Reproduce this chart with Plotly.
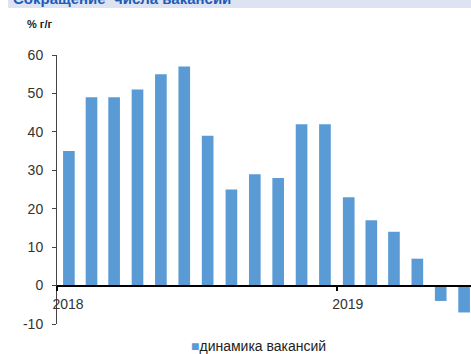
import plotly.graph_objects as go

months = ["2018-01", "2018-02", "2018-03", "2018-04", "2018-05", "2018-06",
          "2018-07", "2018-08", "2018-09", "2018-10", "2018-11", "2018-12",
          "2019-01", "2019-02", "2019-03", "2019-04", "2019-05", "2019-06"]
vacancies = [35, 49, 49, 51, 55, 57, 39, 25, 29, 28, 42, 42, 23, 17, 14, 7, -4, -7]
series_name = "динамика вакансий"
title_text = "Сокращение  числа вакансий"
unit_label = "% г/г"
year_ticks = ["2018-01-01", "2019-01-01"]
year_labels = ["2018", "2019"]
y_ticks = [-10, 0, 10, 20, 30, 40, 50, 60]
y_labels = ["-10", "0", "10", "20", "30", "40", "50", "60"]

W, H = 471, 354
ml, mr, mt, mb = 57, 0, 55, 30
ph = H - mt - mb
pw = W - ml - mr
ymin, ymax = -10, 60

bar_color = "#5b9bd5"
text_color = "#333333"
font_family = "Liberation Sans, Arial, sans-serif"
DAY = 86400000


def px_x(p):
    return (p - ml) / pw


def px_y(p):
    return 1 - (p - mt) / ph


fig = go.Figure()
fig.add_trace(go.Bar(
    x=months, y=vacancies, name=series_name,
    xperiod="M1", xperiodalignment="middle",
    width=15.2 * DAY,
    marker=dict(color=bar_color, line=dict(width=0)),
    showlegend=False,
))

fig.update_layout(
    width=W, height=H,
    margin=dict(l=ml, r=mr, t=mt, b=mb, pad=0, autoexpand=False),
    paper_bgcolor="white", plot_bgcolor="white",
    font=dict(family=font_family, size=14, color=text_color),
    showlegend=False,
    xaxis=dict(type="date", range=["2018-01-01", "2019-06-25"],
               tickvals=year_ticks, ticktext=year_labels,
               anchor="free", position=(0 - ymin) / (ymax - ymin),
               showline=True, linecolor="#000000", linewidth=1.5,
               ticks="outside", ticklen=5, tickcolor="#000000", tickwidth=1.5,
               ticklabelshift=11, ticklabelstandoff=1,
               showgrid=False, zeroline=False, automargin=False,
               tickfont=dict(size=14, color=text_color)),
    yaxis=dict(range=[ymin, ymax], tickvals=y_ticks, ticktext=y_labels,
               showline=True, linecolor="#444444", linewidth=1,
               ticks="outside", ticklen=4, tickcolor="#444444",
               ticklabelstandoff=6,
               showgrid=False, zeroline=False, automargin=False,
               tickfont=dict(size=14, color=text_color)),
    shapes=[dict(type="rect", xref="paper", yref="paper", layer="below",
                 x0=px_x(8), x1=1.01, y0=px_y(8), y1=px_y(-2),
                 fillcolor="#dde3f1", line=dict(width=0))],
    annotations=[
        dict(text="<b>" + title_text + "</b>", xref="paper", yref="paper",
             x=px_x(11), y=px_y(-2), xanchor="left", yanchor="middle",
             showarrow=False, font=dict(size=15, color="#1f5cb8")),
        dict(text="<b>" + unit_label + "</b>", xref="paper", yref="paper",
             x=px_x(25), y=px_y(24), xanchor="left", yanchor="middle",
             showarrow=False, font=dict(size=11, color="#222222")),
        dict(text="<span style='color:" + bar_color + "; font-size:14px'>■</span>" + series_name,
             xref="paper", yref="paper",
             x=px_x(189), y=px_y(346), xanchor="left", yanchor="middle",
             showarrow=False, font=dict(size=14, color="#222222")),
    ],
)

fig.write_html("out.html", config={"displayModeBar": False},
               post_script="document.body.style.margin='0px';document.body.style.overflow='hidden';")
